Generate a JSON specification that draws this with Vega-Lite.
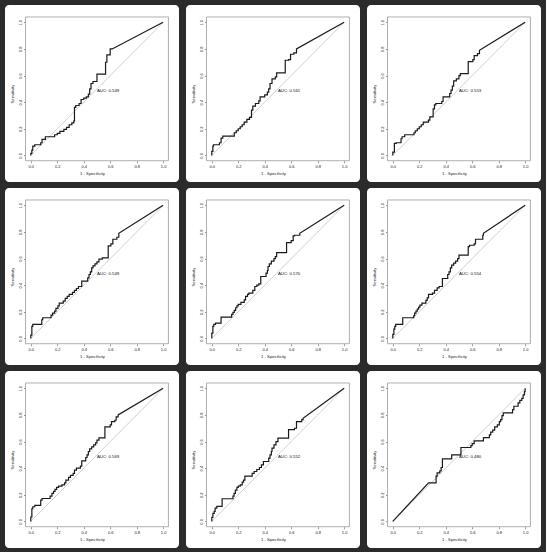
{
"$schema": "https://vega.github.io/schema/vega-lite/v6.json",
"background": "#2b2b2b",
"padding": {"left": 5, "top": 5, "right": 5, "bottom": 4},
"data": {"values": [
{"p":1,"x":0,"y":0},{"p":1,"x":0,"y":0.015},{"p":1,"x":0.008,"y":0.015},{"p":1,"x":0.008,"y":0.04},{"p":1,"x":0.015,"y":0.04},{"p":1,"x":0.015,"y":0.07},{"p":1,"x":0.03,"y":0.07},{"p":1,"x":0.03,"y":0.08},{"p":1,"x":0.075,"y":0.08},{"p":1,"x":0.075,"y":0.095},{"p":1,"x":0.085,"y":0.095},{"p":1,"x":0.085,"y":0.12},{"p":1,"x":0.11,"y":0.12},{"p":1,"x":0.11,"y":0.14},{"p":1,"x":0.18,"y":0.14},{"p":1,"x":0.18,"y":0.155},{"p":1,"x":0.2,"y":0.155},{"p":1,"x":0.2,"y":0.165},{"p":1,"x":0.22,"y":0.165},{"p":1,"x":0.22,"y":0.18},{"p":1,"x":0.25,"y":0.18},{"p":1,"x":0.25,"y":0.195},{"p":1,"x":0.27,"y":0.195},{"p":1,"x":0.27,"y":0.21},{"p":1,"x":0.29,"y":0.21},{"p":1,"x":0.29,"y":0.23},{"p":1,"x":0.31,"y":0.23},{"p":1,"x":0.31,"y":0.245},{"p":1,"x":0.325,"y":0.245},{"p":1,"x":0.325,"y":0.26},{"p":1,"x":0.33,"y":0.26},{"p":1,"x":0.33,"y":0.36},{"p":1,"x":0.34,"y":0.36},{"p":1,"x":0.34,"y":0.375},{"p":1,"x":0.365,"y":0.375},{"p":1,"x":0.365,"y":0.39},{"p":1,"x":0.38,"y":0.39},{"p":1,"x":0.38,"y":0.42},{"p":1,"x":0.4,"y":0.42},{"p":1,"x":0.4,"y":0.43},{"p":1,"x":0.42,"y":0.43},{"p":1,"x":0.42,"y":0.44},{"p":1,"x":0.435,"y":0.44},{"p":1,"x":0.435,"y":0.46},{"p":1,"x":0.445,"y":0.46},{"p":1,"x":0.445,"y":0.5},{"p":1,"x":0.455,"y":0.5},{"p":1,"x":0.455,"y":0.54},{"p":1,"x":0.47,"y":0.54},{"p":1,"x":0.47,"y":0.555},{"p":1,"x":0.5,"y":0.555},{"p":1,"x":0.5,"y":0.61},{"p":1,"x":0.565,"y":0.61},{"p":1,"x":0.565,"y":0.7},{"p":1,"x":0.575,"y":0.7},{"p":1,"x":0.575,"y":0.755},{"p":1,"x":0.6,"y":0.755},{"p":1,"x":0.6,"y":0.8},{"p":1,"x":0.615,"y":0.8},{"p":1,"x":1,"y":1},
{"p":2,"x":0,"y":0},{"p":2,"x":0,"y":0.03},{"p":2,"x":0.008,"y":0.03},{"p":2,"x":0.008,"y":0.07},{"p":2,"x":0.013,"y":0.07},{"p":2,"x":0.013,"y":0.08},{"p":2,"x":0.058,"y":0.08},{"p":2,"x":0.058,"y":0.095},{"p":2,"x":0.07,"y":0.095},{"p":2,"x":0.07,"y":0.13},{"p":2,"x":0.083,"y":0.13},{"p":2,"x":0.083,"y":0.145},{"p":2,"x":0.17,"y":0.145},{"p":2,"x":0.17,"y":0.17},{"p":2,"x":0.185,"y":0.17},{"p":2,"x":0.185,"y":0.185},{"p":2,"x":0.2,"y":0.185},{"p":2,"x":0.2,"y":0.2},{"p":2,"x":0.215,"y":0.2},{"p":2,"x":0.215,"y":0.215},{"p":2,"x":0.23,"y":0.215},{"p":2,"x":0.23,"y":0.23},{"p":2,"x":0.245,"y":0.23},{"p":2,"x":0.245,"y":0.25},{"p":2,"x":0.265,"y":0.25},{"p":2,"x":0.265,"y":0.27},{"p":2,"x":0.285,"y":0.27},{"p":2,"x":0.285,"y":0.285},{"p":2,"x":0.3,"y":0.285},{"p":2,"x":0.3,"y":0.34},{"p":2,"x":0.31,"y":0.34},{"p":2,"x":0.31,"y":0.37},{"p":2,"x":0.33,"y":0.37},{"p":2,"x":0.33,"y":0.39},{"p":2,"x":0.355,"y":0.39},{"p":2,"x":0.355,"y":0.41},{"p":2,"x":0.365,"y":0.41},{"p":2,"x":0.365,"y":0.44},{"p":2,"x":0.4,"y":0.44},{"p":2,"x":0.4,"y":0.455},{"p":2,"x":0.42,"y":0.455},{"p":2,"x":0.42,"y":0.475},{"p":2,"x":0.43,"y":0.475},{"p":2,"x":0.43,"y":0.5},{"p":2,"x":0.44,"y":0.5},{"p":2,"x":0.44,"y":0.54},{"p":2,"x":0.455,"y":0.54},{"p":2,"x":0.455,"y":0.575},{"p":2,"x":0.48,"y":0.575},{"p":2,"x":0.48,"y":0.59},{"p":2,"x":0.49,"y":0.59},{"p":2,"x":0.49,"y":0.62},{"p":2,"x":0.555,"y":0.62},{"p":2,"x":0.555,"y":0.715},{"p":2,"x":0.58,"y":0.715},{"p":2,"x":0.58,"y":0.72},{"p":2,"x":0.595,"y":0.72},{"p":2,"x":0.595,"y":0.76},{"p":2,"x":0.62,"y":0.76},{"p":2,"x":0.62,"y":0.77},{"p":2,"x":0.64,"y":0.77},{"p":2,"x":0.64,"y":0.8},{"p":2,"x":1,"y":1},
{"p":3,"x":0,"y":0},{"p":3,"x":0,"y":0.025},{"p":3,"x":0.012,"y":0.025},{"p":3,"x":0.012,"y":0.09},{"p":3,"x":0.025,"y":0.09},{"p":3,"x":0.025,"y":0.095},{"p":3,"x":0.062,"y":0.095},{"p":3,"x":0.062,"y":0.125},{"p":3,"x":0.07,"y":0.125},{"p":3,"x":0.07,"y":0.14},{"p":3,"x":0.09,"y":0.14},{"p":3,"x":0.09,"y":0.155},{"p":3,"x":0.16,"y":0.155},{"p":3,"x":0.16,"y":0.17},{"p":3,"x":0.17,"y":0.17},{"p":3,"x":0.17,"y":0.185},{"p":3,"x":0.185,"y":0.185},{"p":3,"x":0.185,"y":0.2},{"p":3,"x":0.2,"y":0.2},{"p":3,"x":0.2,"y":0.215},{"p":3,"x":0.215,"y":0.215},{"p":3,"x":0.215,"y":0.23},{"p":3,"x":0.23,"y":0.23},{"p":3,"x":0.23,"y":0.25},{"p":3,"x":0.27,"y":0.25},{"p":3,"x":0.27,"y":0.265},{"p":3,"x":0.28,"y":0.265},{"p":3,"x":0.28,"y":0.29},{"p":3,"x":0.305,"y":0.29},{"p":3,"x":0.305,"y":0.35},{"p":3,"x":0.315,"y":0.35},{"p":3,"x":0.315,"y":0.38},{"p":3,"x":0.325,"y":0.38},{"p":3,"x":0.325,"y":0.39},{"p":3,"x":0.37,"y":0.39},{"p":3,"x":0.37,"y":0.405},{"p":3,"x":0.38,"y":0.405},{"p":3,"x":0.38,"y":0.44},{"p":3,"x":0.43,"y":0.44},{"p":3,"x":0.43,"y":0.465},{"p":3,"x":0.44,"y":0.465},{"p":3,"x":0.44,"y":0.49},{"p":3,"x":0.45,"y":0.49},{"p":3,"x":0.45,"y":0.52},{"p":3,"x":0.46,"y":0.52},{"p":3,"x":0.46,"y":0.56},{"p":3,"x":0.48,"y":0.56},{"p":3,"x":0.48,"y":0.575},{"p":3,"x":0.5,"y":0.575},{"p":3,"x":0.5,"y":0.6},{"p":3,"x":0.51,"y":0.6},{"p":3,"x":0.51,"y":0.615},{"p":3,"x":0.57,"y":0.615},{"p":3,"x":0.57,"y":0.705},{"p":3,"x":0.605,"y":0.705},{"p":3,"x":0.605,"y":0.72},{"p":3,"x":0.615,"y":0.72},{"p":3,"x":0.615,"y":0.75},{"p":3,"x":0.64,"y":0.75},{"p":3,"x":0.64,"y":0.765},{"p":3,"x":0.655,"y":0.765},{"p":3,"x":0.655,"y":0.79},{"p":3,"x":1,"y":1},
{"p":4,"x":0,"y":0},{"p":4,"x":0,"y":0.025},{"p":4,"x":0.008,"y":0.025},{"p":4,"x":0.008,"y":0.09},{"p":4,"x":0.015,"y":0.09},{"p":4,"x":0.015,"y":0.105},{"p":4,"x":0.083,"y":0.105},{"p":4,"x":0.083,"y":0.14},{"p":4,"x":0.09,"y":0.14},{"p":4,"x":0.09,"y":0.155},{"p":4,"x":0.153,"y":0.155},{"p":4,"x":0.153,"y":0.175},{"p":4,"x":0.165,"y":0.175},{"p":4,"x":0.165,"y":0.19},{"p":4,"x":0.18,"y":0.19},{"p":4,"x":0.18,"y":0.205},{"p":4,"x":0.19,"y":0.205},{"p":4,"x":0.19,"y":0.225},{"p":4,"x":0.205,"y":0.225},{"p":4,"x":0.205,"y":0.245},{"p":4,"x":0.215,"y":0.245},{"p":4,"x":0.215,"y":0.265},{"p":4,"x":0.245,"y":0.265},{"p":4,"x":0.245,"y":0.28},{"p":4,"x":0.26,"y":0.28},{"p":4,"x":0.26,"y":0.3},{"p":4,"x":0.275,"y":0.3},{"p":4,"x":0.275,"y":0.315},{"p":4,"x":0.29,"y":0.315},{"p":4,"x":0.29,"y":0.33},{"p":4,"x":0.315,"y":0.33},{"p":4,"x":0.315,"y":0.345},{"p":4,"x":0.33,"y":0.345},{"p":4,"x":0.33,"y":0.36},{"p":4,"x":0.345,"y":0.36},{"p":4,"x":0.345,"y":0.375},{"p":4,"x":0.36,"y":0.375},{"p":4,"x":0.36,"y":0.39},{"p":4,"x":0.385,"y":0.39},{"p":4,"x":0.385,"y":0.43},{"p":4,"x":0.43,"y":0.43},{"p":4,"x":0.43,"y":0.455},{"p":4,"x":0.44,"y":0.455},{"p":4,"x":0.44,"y":0.48},{"p":4,"x":0.45,"y":0.48},{"p":4,"x":0.45,"y":0.5},{"p":4,"x":0.46,"y":0.5},{"p":4,"x":0.46,"y":0.53},{"p":4,"x":0.47,"y":0.53},{"p":4,"x":0.47,"y":0.545},{"p":4,"x":0.485,"y":0.545},{"p":4,"x":0.485,"y":0.56},{"p":4,"x":0.5,"y":0.56},{"p":4,"x":0.5,"y":0.575},{"p":4,"x":0.515,"y":0.575},{"p":4,"x":0.515,"y":0.595},{"p":4,"x":0.54,"y":0.595},{"p":4,"x":0.54,"y":0.605},{"p":4,"x":0.585,"y":0.605},{"p":4,"x":0.585,"y":0.695},{"p":4,"x":0.605,"y":0.695},{"p":4,"x":0.605,"y":0.71},{"p":4,"x":0.62,"y":0.71},{"p":4,"x":0.62,"y":0.745},{"p":4,"x":0.65,"y":0.745},{"p":4,"x":0.65,"y":0.76},{"p":4,"x":0.665,"y":0.76},{"p":4,"x":0.665,"y":0.79},{"p":4,"x":1,"y":1},
{"p":5,"x":0,"y":0},{"p":5,"x":0,"y":0.04},{"p":5,"x":0.008,"y":0.04},{"p":5,"x":0.008,"y":0.09},{"p":5,"x":0.015,"y":0.09},{"p":5,"x":0.015,"y":0.105},{"p":5,"x":0.028,"y":0.105},{"p":5,"x":0.028,"y":0.115},{"p":5,"x":0.07,"y":0.115},{"p":5,"x":0.07,"y":0.16},{"p":5,"x":0.15,"y":0.16},{"p":5,"x":0.15,"y":0.18},{"p":5,"x":0.16,"y":0.18},{"p":5,"x":0.16,"y":0.195},{"p":5,"x":0.17,"y":0.195},{"p":5,"x":0.17,"y":0.21},{"p":5,"x":0.18,"y":0.21},{"p":5,"x":0.18,"y":0.23},{"p":5,"x":0.19,"y":0.23},{"p":5,"x":0.19,"y":0.245},{"p":5,"x":0.2,"y":0.245},{"p":5,"x":0.2,"y":0.255},{"p":5,"x":0.22,"y":0.255},{"p":5,"x":0.22,"y":0.27},{"p":5,"x":0.245,"y":0.27},{"p":5,"x":0.245,"y":0.29},{"p":5,"x":0.255,"y":0.29},{"p":5,"x":0.255,"y":0.315},{"p":5,"x":0.27,"y":0.315},{"p":5,"x":0.27,"y":0.33},{"p":5,"x":0.28,"y":0.33},{"p":5,"x":0.28,"y":0.34},{"p":5,"x":0.31,"y":0.34},{"p":5,"x":0.31,"y":0.36},{"p":5,"x":0.325,"y":0.36},{"p":5,"x":0.325,"y":0.39},{"p":5,"x":0.34,"y":0.39},{"p":5,"x":0.34,"y":0.4},{"p":5,"x":0.355,"y":0.4},{"p":5,"x":0.355,"y":0.41},{"p":5,"x":0.37,"y":0.41},{"p":5,"x":0.37,"y":0.465},{"p":5,"x":0.41,"y":0.465},{"p":5,"x":0.41,"y":0.49},{"p":5,"x":0.42,"y":0.49},{"p":5,"x":0.42,"y":0.51},{"p":5,"x":0.425,"y":0.51},{"p":5,"x":0.425,"y":0.54},{"p":5,"x":0.435,"y":0.54},{"p":5,"x":0.435,"y":0.56},{"p":5,"x":0.45,"y":0.56},{"p":5,"x":0.45,"y":0.58},{"p":5,"x":0.47,"y":0.58},{"p":5,"x":0.47,"y":0.6},{"p":5,"x":0.48,"y":0.6},{"p":5,"x":0.48,"y":0.615},{"p":5,"x":0.49,"y":0.615},{"p":5,"x":0.49,"y":0.645},{"p":5,"x":0.565,"y":0.645},{"p":5,"x":0.565,"y":0.72},{"p":5,"x":0.6,"y":0.72},{"p":5,"x":0.6,"y":0.735},{"p":5,"x":0.615,"y":0.735},{"p":5,"x":0.615,"y":0.77},{"p":5,"x":0.625,"y":0.77},{"p":5,"x":0.625,"y":0.775},{"p":5,"x":0.665,"y":0.775},{"p":5,"x":0.665,"y":0.79},{"p":5,"x":1,"y":1},
{"p":6,"x":0,"y":0},{"p":6,"x":0,"y":0.03},{"p":6,"x":0.008,"y":0.03},{"p":6,"x":0.008,"y":0.07},{"p":6,"x":0.015,"y":0.07},{"p":6,"x":0.015,"y":0.09},{"p":6,"x":0.022,"y":0.09},{"p":6,"x":0.022,"y":0.105},{"p":6,"x":0.075,"y":0.105},{"p":6,"x":0.075,"y":0.155},{"p":6,"x":0.158,"y":0.155},{"p":6,"x":0.158,"y":0.17},{"p":6,"x":0.165,"y":0.17},{"p":6,"x":0.165,"y":0.19},{"p":6,"x":0.175,"y":0.19},{"p":6,"x":0.175,"y":0.205},{"p":6,"x":0.185,"y":0.205},{"p":6,"x":0.185,"y":0.22},{"p":6,"x":0.195,"y":0.22},{"p":6,"x":0.195,"y":0.235},{"p":6,"x":0.205,"y":0.235},{"p":6,"x":0.205,"y":0.25},{"p":6,"x":0.22,"y":0.25},{"p":6,"x":0.22,"y":0.265},{"p":6,"x":0.25,"y":0.265},{"p":6,"x":0.25,"y":0.285},{"p":6,"x":0.26,"y":0.285},{"p":6,"x":0.26,"y":0.305},{"p":6,"x":0.27,"y":0.305},{"p":6,"x":0.27,"y":0.33},{"p":6,"x":0.3,"y":0.33},{"p":6,"x":0.3,"y":0.34},{"p":6,"x":0.315,"y":0.34},{"p":6,"x":0.315,"y":0.36},{"p":6,"x":0.335,"y":0.36},{"p":6,"x":0.335,"y":0.38},{"p":6,"x":0.35,"y":0.38},{"p":6,"x":0.35,"y":0.39},{"p":6,"x":0.375,"y":0.39},{"p":6,"x":0.375,"y":0.45},{"p":6,"x":0.415,"y":0.45},{"p":6,"x":0.415,"y":0.48},{"p":6,"x":0.425,"y":0.48},{"p":6,"x":0.425,"y":0.5},{"p":6,"x":0.435,"y":0.5},{"p":6,"x":0.435,"y":0.53},{"p":6,"x":0.445,"y":0.53},{"p":6,"x":0.445,"y":0.55},{"p":6,"x":0.46,"y":0.55},{"p":6,"x":0.46,"y":0.565},{"p":6,"x":0.475,"y":0.565},{"p":6,"x":0.475,"y":0.58},{"p":6,"x":0.49,"y":0.58},{"p":6,"x":0.49,"y":0.6},{"p":6,"x":0.5,"y":0.6},{"p":6,"x":0.5,"y":0.625},{"p":6,"x":0.57,"y":0.625},{"p":6,"x":0.57,"y":0.69},{"p":6,"x":0.58,"y":0.69},{"p":6,"x":0.58,"y":0.7},{"p":6,"x":0.615,"y":0.7},{"p":6,"x":0.615,"y":0.71},{"p":6,"x":0.625,"y":0.71},{"p":6,"x":0.625,"y":0.745},{"p":6,"x":0.68,"y":0.745},{"p":6,"x":0.68,"y":0.775},{"p":6,"x":0.685,"y":0.775},{"p":6,"x":0.685,"y":0.79},{"p":6,"x":1,"y":1},
{"p":7,"x":0,"y":0},{"p":7,"x":0,"y":0.033},{"p":7,"x":0.008,"y":0.033},{"p":7,"x":0.008,"y":0.095},{"p":7,"x":0.015,"y":0.095},{"p":7,"x":0.015,"y":0.11},{"p":7,"x":0.03,"y":0.11},{"p":7,"x":0.03,"y":0.12},{"p":7,"x":0.075,"y":0.12},{"p":7,"x":0.075,"y":0.16},{"p":7,"x":0.085,"y":0.16},{"p":7,"x":0.085,"y":0.172},{"p":7,"x":0.146,"y":0.172},{"p":7,"x":0.146,"y":0.19},{"p":7,"x":0.16,"y":0.19},{"p":7,"x":0.16,"y":0.21},{"p":7,"x":0.172,"y":0.21},{"p":7,"x":0.172,"y":0.225},{"p":7,"x":0.183,"y":0.225},{"p":7,"x":0.183,"y":0.24},{"p":7,"x":0.195,"y":0.24},{"p":7,"x":0.195,"y":0.255},{"p":7,"x":0.21,"y":0.255},{"p":7,"x":0.21,"y":0.265},{"p":7,"x":0.235,"y":0.265},{"p":7,"x":0.235,"y":0.275},{"p":7,"x":0.255,"y":0.275},{"p":7,"x":0.255,"y":0.29},{"p":7,"x":0.265,"y":0.29},{"p":7,"x":0.265,"y":0.31},{"p":7,"x":0.285,"y":0.31},{"p":7,"x":0.285,"y":0.33},{"p":7,"x":0.3,"y":0.33},{"p":7,"x":0.3,"y":0.345},{"p":7,"x":0.32,"y":0.345},{"p":7,"x":0.32,"y":0.36},{"p":7,"x":0.33,"y":0.36},{"p":7,"x":0.33,"y":0.385},{"p":7,"x":0.345,"y":0.385},{"p":7,"x":0.345,"y":0.4},{"p":7,"x":0.375,"y":0.4},{"p":7,"x":0.375,"y":0.415},{"p":7,"x":0.385,"y":0.415},{"p":7,"x":0.385,"y":0.455},{"p":7,"x":0.415,"y":0.455},{"p":7,"x":0.415,"y":0.48},{"p":7,"x":0.425,"y":0.48},{"p":7,"x":0.425,"y":0.5},{"p":7,"x":0.435,"y":0.5},{"p":7,"x":0.435,"y":0.525},{"p":7,"x":0.445,"y":0.525},{"p":7,"x":0.445,"y":0.545},{"p":7,"x":0.46,"y":0.545},{"p":7,"x":0.46,"y":0.56},{"p":7,"x":0.475,"y":0.56},{"p":7,"x":0.475,"y":0.575},{"p":7,"x":0.49,"y":0.575},{"p":7,"x":0.49,"y":0.59},{"p":7,"x":0.5,"y":0.59},{"p":7,"x":0.5,"y":0.61},{"p":7,"x":0.515,"y":0.61},{"p":7,"x":0.515,"y":0.628},{"p":7,"x":0.56,"y":0.628},{"p":7,"x":0.56,"y":0.71},{"p":7,"x":0.6,"y":0.71},{"p":7,"x":0.6,"y":0.725},{"p":7,"x":0.61,"y":0.725},{"p":7,"x":0.61,"y":0.75},{"p":7,"x":0.635,"y":0.75},{"p":7,"x":0.635,"y":0.76},{"p":7,"x":0.645,"y":0.76},{"p":7,"x":0.645,"y":0.785},{"p":7,"x":0.66,"y":0.785},{"p":7,"x":0.66,"y":0.8},{"p":7,"x":1,"y":1},
{"p":8,"x":0,"y":0},{"p":8,"x":0,"y":0.03},{"p":8,"x":0.008,"y":0.03},{"p":8,"x":0.008,"y":0.06},{"p":8,"x":0.018,"y":0.06},{"p":8,"x":0.018,"y":0.075},{"p":8,"x":0.025,"y":0.075},{"p":8,"x":0.025,"y":0.1},{"p":8,"x":0.038,"y":0.1},{"p":8,"x":0.038,"y":0.113},{"p":8,"x":0.078,"y":0.113},{"p":8,"x":0.078,"y":0.17},{"p":8,"x":0.16,"y":0.17},{"p":8,"x":0.16,"y":0.19},{"p":8,"x":0.168,"y":0.19},{"p":8,"x":0.168,"y":0.21},{"p":8,"x":0.178,"y":0.21},{"p":8,"x":0.178,"y":0.235},{"p":8,"x":0.19,"y":0.235},{"p":8,"x":0.19,"y":0.255},{"p":8,"x":0.2,"y":0.255},{"p":8,"x":0.2,"y":0.265},{"p":8,"x":0.215,"y":0.265},{"p":8,"x":0.215,"y":0.275},{"p":8,"x":0.23,"y":0.275},{"p":8,"x":0.23,"y":0.295},{"p":8,"x":0.24,"y":0.295},{"p":8,"x":0.24,"y":0.31},{"p":8,"x":0.25,"y":0.31},{"p":8,"x":0.25,"y":0.34},{"p":8,"x":0.305,"y":0.34},{"p":8,"x":0.305,"y":0.36},{"p":8,"x":0.32,"y":0.36},{"p":8,"x":0.32,"y":0.375},{"p":8,"x":0.34,"y":0.375},{"p":8,"x":0.34,"y":0.39},{"p":8,"x":0.36,"y":0.39},{"p":8,"x":0.36,"y":0.405},{"p":8,"x":0.375,"y":0.405},{"p":8,"x":0.375,"y":0.425},{"p":8,"x":0.39,"y":0.425},{"p":8,"x":0.39,"y":0.45},{"p":8,"x":0.43,"y":0.45},{"p":8,"x":0.43,"y":0.475},{"p":8,"x":0.44,"y":0.475},{"p":8,"x":0.44,"y":0.5},{"p":8,"x":0.45,"y":0.5},{"p":8,"x":0.45,"y":0.525},{"p":8,"x":0.455,"y":0.525},{"p":8,"x":0.455,"y":0.55},{"p":8,"x":0.47,"y":0.55},{"p":8,"x":0.47,"y":0.575},{"p":8,"x":0.485,"y":0.575},{"p":8,"x":0.485,"y":0.6},{"p":8,"x":0.5,"y":0.6},{"p":8,"x":0.5,"y":0.625},{"p":8,"x":0.58,"y":0.625},{"p":8,"x":0.58,"y":0.69},{"p":8,"x":0.625,"y":0.69},{"p":8,"x":0.625,"y":0.7},{"p":8,"x":0.64,"y":0.7},{"p":8,"x":0.64,"y":0.75},{"p":8,"x":0.68,"y":0.75},{"p":8,"x":0.68,"y":0.765},{"p":8,"x":0.69,"y":0.765},{"p":8,"x":0.69,"y":0.775},{"p":8,"x":1,"y":1},
{"p":9,"x":0,"y":0},{"p":9,"x":0.27,"y":0.29},{"p":9,"x":0.327,"y":0.29},{"p":9,"x":0.327,"y":0.34},{"p":9,"x":0.335,"y":0.34},{"p":9,"x":0.335,"y":0.365},{"p":9,"x":0.355,"y":0.365},{"p":9,"x":0.355,"y":0.38},{"p":9,"x":0.365,"y":0.38},{"p":9,"x":0.365,"y":0.405},{"p":9,"x":0.375,"y":0.405},{"p":9,"x":0.375,"y":0.47},{"p":9,"x":0.445,"y":0.47},{"p":9,"x":0.445,"y":0.5},{"p":9,"x":0.515,"y":0.5},{"p":9,"x":0.515,"y":0.555},{"p":9,"x":0.59,"y":0.555},{"p":9,"x":0.59,"y":0.57},{"p":9,"x":0.6,"y":0.57},{"p":9,"x":0.6,"y":0.585},{"p":9,"x":0.615,"y":0.585},{"p":9,"x":0.615,"y":0.605},{"p":9,"x":0.685,"y":0.605},{"p":9,"x":0.685,"y":0.63},{"p":9,"x":0.73,"y":0.63},{"p":9,"x":0.73,"y":0.65},{"p":9,"x":0.74,"y":0.65},{"p":9,"x":0.74,"y":0.67},{"p":9,"x":0.755,"y":0.67},{"p":9,"x":0.755,"y":0.685},{"p":9,"x":0.77,"y":0.685},{"p":9,"x":0.77,"y":0.71},{"p":9,"x":0.79,"y":0.71},{"p":9,"x":0.79,"y":0.725},{"p":9,"x":0.805,"y":0.725},{"p":9,"x":0.805,"y":0.75},{"p":9,"x":0.815,"y":0.75},{"p":9,"x":0.815,"y":0.765},{"p":9,"x":0.825,"y":0.765},{"p":9,"x":0.825,"y":0.795},{"p":9,"x":0.835,"y":0.795},{"p":9,"x":0.835,"y":0.815},{"p":9,"x":0.905,"y":0.815},{"p":9,"x":0.905,"y":0.84},{"p":9,"x":0.915,"y":0.84},{"p":9,"x":0.915,"y":0.865},{"p":9,"x":0.947,"y":0.865},{"p":9,"x":0.947,"y":0.89},{"p":9,"x":0.96,"y":0.89},{"p":9,"x":0.96,"y":0.91},{"p":9,"x":0.975,"y":0.91},{"p":9,"x":0.975,"y":0.925},{"p":9,"x":0.985,"y":0.925},{"p":9,"x":0.985,"y":0.95},{"p":9,"x":0.995,"y":0.95},{"p":9,"x":0.995,"y":0.975},{"p":9,"x":1,"y":0.975},{"p":9,"x":1,"y":1},
{"p":1,"auc":"AUC: 0.549"},{"p":2,"auc":"AUC: 0.561"},{"p":3,"auc":"AUC: 0.553"},{"p":4,"auc":"AUC: 0.549"},{"p":5,"auc":"AUC: 0.570"},{"p":6,"auc":"AUC: 0.554"},{"p":7,"auc":"AUC: 0.569"},{"p":8,"auc":"AUC: 0.552"},{"p":9,"auc":"AUC: 0.480"}
]},
"columns": 3,
"spacing": {"row": 6, "column": 7},
"concat": [
{"width":174,"height":177,"transform":[{"filter":"datum.p==1"}],"layer":[
 {"transform":[{"filter":"isValid(datum.auc)"}],"mark":{"type":"rect","filled":false,"color":"#9a9a9a","strokeWidth":0.8},"encoding":{"x":{"datum":-0.04,"type":"quantitative","scale":{"domain":[-0.195,1.12],"nice":false,"zero":false},"axis":{"title":"1 - Specificity","values":[0,0.2,0.4,0.6,0.8,1],"format":".1f"}},"x2":{"datum":1.04},"y":{"datum":-0.04,"type":"quantitative","scale":{"domain":[-0.2,1.13],"nice":false,"zero":false},"axis":{"title":"Sensitivity","values":[0,0.2,0.4,0.6,0.8,1],"format":".1f"}},"y2":{"datum":1.04}}},
 {"transform":[{"filter":"isValid(datum.auc)"}],"mark":{"type":"rule","color":"#c4c4c4","strokeWidth":0.8},"encoding":{"x":{"datum":0,"type":"quantitative","scale":{"domain":[-0.195,1.12],"nice":false,"zero":false},"axis":{"title":"1 - Specificity","values":[0,0.2,0.4,0.6,0.8,1],"format":".1f"}},"x2":{"datum":1},"y":{"datum":0,"type":"quantitative","scale":{"domain":[-0.2,1.13],"nice":false,"zero":false},"axis":{"title":"Sensitivity","values":[0,0.2,0.4,0.6,0.8,1],"format":".1f"}},"y2":{"datum":1}}},
 {"transform":[{"filter":"!isValid(datum.auc)"}],"mark":{"type":"line","color":"#1a1a1a","strokeWidth":1.2},"encoding":{"x":{"field":"x","type":"quantitative","scale":{"domain":[-0.195,1.12],"nice":false,"zero":false},"axis":{"title":"1 - Specificity","values":[0,0.2,0.4,0.6,0.8,1],"format":".1f"}},"y":{"field":"y","type":"quantitative","scale":{"domain":[-0.2,1.13],"nice":false,"zero":false},"axis":{"title":"Sensitivity","values":[0,0.2,0.4,0.6,0.8,1],"format":".1f"}}}},
 {"transform":[{"filter":"isValid(datum.auc)"}],"mark":{"type":"text","align":"left","baseline":"top","fontSize":4.3,"font":"Liberation Sans","color":"#111111"},"encoding":{"x":{"datum":0.5,"type":"quantitative","scale":{"domain":[-0.195,1.12],"nice":false,"zero":false},"axis":{"title":"1 - Specificity","values":[0,0.2,0.4,0.6,0.8,1],"format":".1f"}},"y":{"datum":0.5,"type":"quantitative","scale":{"domain":[-0.2,1.13],"nice":false,"zero":false},"axis":{"title":"Sensitivity","values":[0,0.2,0.4,0.6,0.8,1],"format":".1f"}},"text":{"field":"auc"}}}
]},
{"width":174,"height":177,"transform":[{"filter":"datum.p==2"}],"layer":[
 {"transform":[{"filter":"isValid(datum.auc)"}],"mark":{"type":"rect","filled":false,"color":"#9a9a9a","strokeWidth":0.8},"encoding":{"x":{"datum":-0.04,"type":"quantitative","scale":{"domain":[-0.195,1.12],"nice":false,"zero":false},"axis":{"title":"1 - Specificity","values":[0,0.2,0.4,0.6,0.8,1],"format":".1f"}},"x2":{"datum":1.04},"y":{"datum":-0.04,"type":"quantitative","scale":{"domain":[-0.2,1.13],"nice":false,"zero":false},"axis":{"title":"Sensitivity","values":[0,0.2,0.4,0.6,0.8,1],"format":".1f"}},"y2":{"datum":1.04}}},
 {"transform":[{"filter":"isValid(datum.auc)"}],"mark":{"type":"rule","color":"#c4c4c4","strokeWidth":0.8},"encoding":{"x":{"datum":0,"type":"quantitative","scale":{"domain":[-0.195,1.12],"nice":false,"zero":false},"axis":{"title":"1 - Specificity","values":[0,0.2,0.4,0.6,0.8,1],"format":".1f"}},"x2":{"datum":1},"y":{"datum":0,"type":"quantitative","scale":{"domain":[-0.2,1.13],"nice":false,"zero":false},"axis":{"title":"Sensitivity","values":[0,0.2,0.4,0.6,0.8,1],"format":".1f"}},"y2":{"datum":1}}},
 {"transform":[{"filter":"!isValid(datum.auc)"}],"mark":{"type":"line","color":"#1a1a1a","strokeWidth":1.2},"encoding":{"x":{"field":"x","type":"quantitative","scale":{"domain":[-0.195,1.12],"nice":false,"zero":false},"axis":{"title":"1 - Specificity","values":[0,0.2,0.4,0.6,0.8,1],"format":".1f"}},"y":{"field":"y","type":"quantitative","scale":{"domain":[-0.2,1.13],"nice":false,"zero":false},"axis":{"title":"Sensitivity","values":[0,0.2,0.4,0.6,0.8,1],"format":".1f"}}}},
 {"transform":[{"filter":"isValid(datum.auc)"}],"mark":{"type":"text","align":"left","baseline":"top","fontSize":4.3,"font":"Liberation Sans","color":"#111111"},"encoding":{"x":{"datum":0.5,"type":"quantitative","scale":{"domain":[-0.195,1.12],"nice":false,"zero":false},"axis":{"title":"1 - Specificity","values":[0,0.2,0.4,0.6,0.8,1],"format":".1f"}},"y":{"datum":0.5,"type":"quantitative","scale":{"domain":[-0.2,1.13],"nice":false,"zero":false},"axis":{"title":"Sensitivity","values":[0,0.2,0.4,0.6,0.8,1],"format":".1f"}},"text":{"field":"auc"}}}
]},
{"width":174,"height":177,"transform":[{"filter":"datum.p==3"}],"layer":[
 {"transform":[{"filter":"isValid(datum.auc)"}],"mark":{"type":"rect","filled":false,"color":"#9a9a9a","strokeWidth":0.8},"encoding":{"x":{"datum":-0.04,"type":"quantitative","scale":{"domain":[-0.195,1.12],"nice":false,"zero":false},"axis":{"title":"1 - Specificity","values":[0,0.2,0.4,0.6,0.8,1],"format":".1f"}},"x2":{"datum":1.04},"y":{"datum":-0.04,"type":"quantitative","scale":{"domain":[-0.2,1.13],"nice":false,"zero":false},"axis":{"title":"Sensitivity","values":[0,0.2,0.4,0.6,0.8,1],"format":".1f"}},"y2":{"datum":1.04}}},
 {"transform":[{"filter":"isValid(datum.auc)"}],"mark":{"type":"rule","color":"#c4c4c4","strokeWidth":0.8},"encoding":{"x":{"datum":0,"type":"quantitative","scale":{"domain":[-0.195,1.12],"nice":false,"zero":false},"axis":{"title":"1 - Specificity","values":[0,0.2,0.4,0.6,0.8,1],"format":".1f"}},"x2":{"datum":1},"y":{"datum":0,"type":"quantitative","scale":{"domain":[-0.2,1.13],"nice":false,"zero":false},"axis":{"title":"Sensitivity","values":[0,0.2,0.4,0.6,0.8,1],"format":".1f"}},"y2":{"datum":1}}},
 {"transform":[{"filter":"!isValid(datum.auc)"}],"mark":{"type":"line","color":"#1a1a1a","strokeWidth":1.2},"encoding":{"x":{"field":"x","type":"quantitative","scale":{"domain":[-0.195,1.12],"nice":false,"zero":false},"axis":{"title":"1 - Specificity","values":[0,0.2,0.4,0.6,0.8,1],"format":".1f"}},"y":{"field":"y","type":"quantitative","scale":{"domain":[-0.2,1.13],"nice":false,"zero":false},"axis":{"title":"Sensitivity","values":[0,0.2,0.4,0.6,0.8,1],"format":".1f"}}}},
 {"transform":[{"filter":"isValid(datum.auc)"}],"mark":{"type":"text","align":"left","baseline":"top","fontSize":4.3,"font":"Liberation Sans","color":"#111111"},"encoding":{"x":{"datum":0.5,"type":"quantitative","scale":{"domain":[-0.195,1.12],"nice":false,"zero":false},"axis":{"title":"1 - Specificity","values":[0,0.2,0.4,0.6,0.8,1],"format":".1f"}},"y":{"datum":0.5,"type":"quantitative","scale":{"domain":[-0.2,1.13],"nice":false,"zero":false},"axis":{"title":"Sensitivity","values":[0,0.2,0.4,0.6,0.8,1],"format":".1f"}},"text":{"field":"auc"}}}
]},
{"width":174,"height":177,"transform":[{"filter":"datum.p==4"}],"layer":[
 {"transform":[{"filter":"isValid(datum.auc)"}],"mark":{"type":"rect","filled":false,"color":"#9a9a9a","strokeWidth":0.8},"encoding":{"x":{"datum":-0.04,"type":"quantitative","scale":{"domain":[-0.195,1.12],"nice":false,"zero":false},"axis":{"title":"1 - Specificity","values":[0,0.2,0.4,0.6,0.8,1],"format":".1f"}},"x2":{"datum":1.04},"y":{"datum":-0.04,"type":"quantitative","scale":{"domain":[-0.2,1.13],"nice":false,"zero":false},"axis":{"title":"Sensitivity","values":[0,0.2,0.4,0.6,0.8,1],"format":".1f"}},"y2":{"datum":1.04}}},
 {"transform":[{"filter":"isValid(datum.auc)"}],"mark":{"type":"rule","color":"#c4c4c4","strokeWidth":0.8},"encoding":{"x":{"datum":0,"type":"quantitative","scale":{"domain":[-0.195,1.12],"nice":false,"zero":false},"axis":{"title":"1 - Specificity","values":[0,0.2,0.4,0.6,0.8,1],"format":".1f"}},"x2":{"datum":1},"y":{"datum":0,"type":"quantitative","scale":{"domain":[-0.2,1.13],"nice":false,"zero":false},"axis":{"title":"Sensitivity","values":[0,0.2,0.4,0.6,0.8,1],"format":".1f"}},"y2":{"datum":1}}},
 {"transform":[{"filter":"!isValid(datum.auc)"}],"mark":{"type":"line","color":"#1a1a1a","strokeWidth":1.2},"encoding":{"x":{"field":"x","type":"quantitative","scale":{"domain":[-0.195,1.12],"nice":false,"zero":false},"axis":{"title":"1 - Specificity","values":[0,0.2,0.4,0.6,0.8,1],"format":".1f"}},"y":{"field":"y","type":"quantitative","scale":{"domain":[-0.2,1.13],"nice":false,"zero":false},"axis":{"title":"Sensitivity","values":[0,0.2,0.4,0.6,0.8,1],"format":".1f"}}}},
 {"transform":[{"filter":"isValid(datum.auc)"}],"mark":{"type":"text","align":"left","baseline":"top","fontSize":4.3,"font":"Liberation Sans","color":"#111111"},"encoding":{"x":{"datum":0.5,"type":"quantitative","scale":{"domain":[-0.195,1.12],"nice":false,"zero":false},"axis":{"title":"1 - Specificity","values":[0,0.2,0.4,0.6,0.8,1],"format":".1f"}},"y":{"datum":0.5,"type":"quantitative","scale":{"domain":[-0.2,1.13],"nice":false,"zero":false},"axis":{"title":"Sensitivity","values":[0,0.2,0.4,0.6,0.8,1],"format":".1f"}},"text":{"field":"auc"}}}
]},
{"width":174,"height":177,"transform":[{"filter":"datum.p==5"}],"layer":[
 {"transform":[{"filter":"isValid(datum.auc)"}],"mark":{"type":"rect","filled":false,"color":"#9a9a9a","strokeWidth":0.8},"encoding":{"x":{"datum":-0.04,"type":"quantitative","scale":{"domain":[-0.195,1.12],"nice":false,"zero":false},"axis":{"title":"1 - Specificity","values":[0,0.2,0.4,0.6,0.8,1],"format":".1f"}},"x2":{"datum":1.04},"y":{"datum":-0.04,"type":"quantitative","scale":{"domain":[-0.2,1.13],"nice":false,"zero":false},"axis":{"title":"Sensitivity","values":[0,0.2,0.4,0.6,0.8,1],"format":".1f"}},"y2":{"datum":1.04}}},
 {"transform":[{"filter":"isValid(datum.auc)"}],"mark":{"type":"rule","color":"#c4c4c4","strokeWidth":0.8},"encoding":{"x":{"datum":0,"type":"quantitative","scale":{"domain":[-0.195,1.12],"nice":false,"zero":false},"axis":{"title":"1 - Specificity","values":[0,0.2,0.4,0.6,0.8,1],"format":".1f"}},"x2":{"datum":1},"y":{"datum":0,"type":"quantitative","scale":{"domain":[-0.2,1.13],"nice":false,"zero":false},"axis":{"title":"Sensitivity","values":[0,0.2,0.4,0.6,0.8,1],"format":".1f"}},"y2":{"datum":1}}},
 {"transform":[{"filter":"!isValid(datum.auc)"}],"mark":{"type":"line","color":"#1a1a1a","strokeWidth":1.2},"encoding":{"x":{"field":"x","type":"quantitative","scale":{"domain":[-0.195,1.12],"nice":false,"zero":false},"axis":{"title":"1 - Specificity","values":[0,0.2,0.4,0.6,0.8,1],"format":".1f"}},"y":{"field":"y","type":"quantitative","scale":{"domain":[-0.2,1.13],"nice":false,"zero":false},"axis":{"title":"Sensitivity","values":[0,0.2,0.4,0.6,0.8,1],"format":".1f"}}}},
 {"transform":[{"filter":"isValid(datum.auc)"}],"mark":{"type":"text","align":"left","baseline":"top","fontSize":4.3,"font":"Liberation Sans","color":"#111111"},"encoding":{"x":{"datum":0.5,"type":"quantitative","scale":{"domain":[-0.195,1.12],"nice":false,"zero":false},"axis":{"title":"1 - Specificity","values":[0,0.2,0.4,0.6,0.8,1],"format":".1f"}},"y":{"datum":0.5,"type":"quantitative","scale":{"domain":[-0.2,1.13],"nice":false,"zero":false},"axis":{"title":"Sensitivity","values":[0,0.2,0.4,0.6,0.8,1],"format":".1f"}},"text":{"field":"auc"}}}
]},
{"width":174,"height":177,"transform":[{"filter":"datum.p==6"}],"layer":[
 {"transform":[{"filter":"isValid(datum.auc)"}],"mark":{"type":"rect","filled":false,"color":"#9a9a9a","strokeWidth":0.8},"encoding":{"x":{"datum":-0.04,"type":"quantitative","scale":{"domain":[-0.195,1.12],"nice":false,"zero":false},"axis":{"title":"1 - Specificity","values":[0,0.2,0.4,0.6,0.8,1],"format":".1f"}},"x2":{"datum":1.04},"y":{"datum":-0.04,"type":"quantitative","scale":{"domain":[-0.2,1.13],"nice":false,"zero":false},"axis":{"title":"Sensitivity","values":[0,0.2,0.4,0.6,0.8,1],"format":".1f"}},"y2":{"datum":1.04}}},
 {"transform":[{"filter":"isValid(datum.auc)"}],"mark":{"type":"rule","color":"#c4c4c4","strokeWidth":0.8},"encoding":{"x":{"datum":0,"type":"quantitative","scale":{"domain":[-0.195,1.12],"nice":false,"zero":false},"axis":{"title":"1 - Specificity","values":[0,0.2,0.4,0.6,0.8,1],"format":".1f"}},"x2":{"datum":1},"y":{"datum":0,"type":"quantitative","scale":{"domain":[-0.2,1.13],"nice":false,"zero":false},"axis":{"title":"Sensitivity","values":[0,0.2,0.4,0.6,0.8,1],"format":".1f"}},"y2":{"datum":1}}},
 {"transform":[{"filter":"!isValid(datum.auc)"}],"mark":{"type":"line","color":"#1a1a1a","strokeWidth":1.2},"encoding":{"x":{"field":"x","type":"quantitative","scale":{"domain":[-0.195,1.12],"nice":false,"zero":false},"axis":{"title":"1 - Specificity","values":[0,0.2,0.4,0.6,0.8,1],"format":".1f"}},"y":{"field":"y","type":"quantitative","scale":{"domain":[-0.2,1.13],"nice":false,"zero":false},"axis":{"title":"Sensitivity","values":[0,0.2,0.4,0.6,0.8,1],"format":".1f"}}}},
 {"transform":[{"filter":"isValid(datum.auc)"}],"mark":{"type":"text","align":"left","baseline":"top","fontSize":4.3,"font":"Liberation Sans","color":"#111111"},"encoding":{"x":{"datum":0.5,"type":"quantitative","scale":{"domain":[-0.195,1.12],"nice":false,"zero":false},"axis":{"title":"1 - Specificity","values":[0,0.2,0.4,0.6,0.8,1],"format":".1f"}},"y":{"datum":0.5,"type":"quantitative","scale":{"domain":[-0.2,1.13],"nice":false,"zero":false},"axis":{"title":"Sensitivity","values":[0,0.2,0.4,0.6,0.8,1],"format":".1f"}},"text":{"field":"auc"}}}
]},
{"width":174,"height":177,"transform":[{"filter":"datum.p==7"}],"layer":[
 {"transform":[{"filter":"isValid(datum.auc)"}],"mark":{"type":"rect","filled":false,"color":"#9a9a9a","strokeWidth":0.8},"encoding":{"x":{"datum":-0.04,"type":"quantitative","scale":{"domain":[-0.195,1.12],"nice":false,"zero":false},"axis":{"title":"1 - Specificity","values":[0,0.2,0.4,0.6,0.8,1],"format":".1f"}},"x2":{"datum":1.04},"y":{"datum":-0.04,"type":"quantitative","scale":{"domain":[-0.2,1.13],"nice":false,"zero":false},"axis":{"title":"Sensitivity","values":[0,0.2,0.4,0.6,0.8,1],"format":".1f"}},"y2":{"datum":1.04}}},
 {"transform":[{"filter":"isValid(datum.auc)"}],"mark":{"type":"rule","color":"#c4c4c4","strokeWidth":0.8},"encoding":{"x":{"datum":0,"type":"quantitative","scale":{"domain":[-0.195,1.12],"nice":false,"zero":false},"axis":{"title":"1 - Specificity","values":[0,0.2,0.4,0.6,0.8,1],"format":".1f"}},"x2":{"datum":1},"y":{"datum":0,"type":"quantitative","scale":{"domain":[-0.2,1.13],"nice":false,"zero":false},"axis":{"title":"Sensitivity","values":[0,0.2,0.4,0.6,0.8,1],"format":".1f"}},"y2":{"datum":1}}},
 {"transform":[{"filter":"!isValid(datum.auc)"}],"mark":{"type":"line","color":"#1a1a1a","strokeWidth":1.2},"encoding":{"x":{"field":"x","type":"quantitative","scale":{"domain":[-0.195,1.12],"nice":false,"zero":false},"axis":{"title":"1 - Specificity","values":[0,0.2,0.4,0.6,0.8,1],"format":".1f"}},"y":{"field":"y","type":"quantitative","scale":{"domain":[-0.2,1.13],"nice":false,"zero":false},"axis":{"title":"Sensitivity","values":[0,0.2,0.4,0.6,0.8,1],"format":".1f"}}}},
 {"transform":[{"filter":"isValid(datum.auc)"}],"mark":{"type":"text","align":"left","baseline":"top","fontSize":4.3,"font":"Liberation Sans","color":"#111111"},"encoding":{"x":{"datum":0.5,"type":"quantitative","scale":{"domain":[-0.195,1.12],"nice":false,"zero":false},"axis":{"title":"1 - Specificity","values":[0,0.2,0.4,0.6,0.8,1],"format":".1f"}},"y":{"datum":0.5,"type":"quantitative","scale":{"domain":[-0.2,1.13],"nice":false,"zero":false},"axis":{"title":"Sensitivity","values":[0,0.2,0.4,0.6,0.8,1],"format":".1f"}},"text":{"field":"auc"}}}
]},
{"width":174,"height":177,"transform":[{"filter":"datum.p==8"}],"layer":[
 {"transform":[{"filter":"isValid(datum.auc)"}],"mark":{"type":"rect","filled":false,"color":"#9a9a9a","strokeWidth":0.8},"encoding":{"x":{"datum":-0.04,"type":"quantitative","scale":{"domain":[-0.195,1.12],"nice":false,"zero":false},"axis":{"title":"1 - Specificity","values":[0,0.2,0.4,0.6,0.8,1],"format":".1f"}},"x2":{"datum":1.04},"y":{"datum":-0.04,"type":"quantitative","scale":{"domain":[-0.2,1.13],"nice":false,"zero":false},"axis":{"title":"Sensitivity","values":[0,0.2,0.4,0.6,0.8,1],"format":".1f"}},"y2":{"datum":1.04}}},
 {"transform":[{"filter":"isValid(datum.auc)"}],"mark":{"type":"rule","color":"#c4c4c4","strokeWidth":0.8},"encoding":{"x":{"datum":0,"type":"quantitative","scale":{"domain":[-0.195,1.12],"nice":false,"zero":false},"axis":{"title":"1 - Specificity","values":[0,0.2,0.4,0.6,0.8,1],"format":".1f"}},"x2":{"datum":1},"y":{"datum":0,"type":"quantitative","scale":{"domain":[-0.2,1.13],"nice":false,"zero":false},"axis":{"title":"Sensitivity","values":[0,0.2,0.4,0.6,0.8,1],"format":".1f"}},"y2":{"datum":1}}},
 {"transform":[{"filter":"!isValid(datum.auc)"}],"mark":{"type":"line","color":"#1a1a1a","strokeWidth":1.2},"encoding":{"x":{"field":"x","type":"quantitative","scale":{"domain":[-0.195,1.12],"nice":false,"zero":false},"axis":{"title":"1 - Specificity","values":[0,0.2,0.4,0.6,0.8,1],"format":".1f"}},"y":{"field":"y","type":"quantitative","scale":{"domain":[-0.2,1.13],"nice":false,"zero":false},"axis":{"title":"Sensitivity","values":[0,0.2,0.4,0.6,0.8,1],"format":".1f"}}}},
 {"transform":[{"filter":"isValid(datum.auc)"}],"mark":{"type":"text","align":"left","baseline":"top","fontSize":4.3,"font":"Liberation Sans","color":"#111111"},"encoding":{"x":{"datum":0.5,"type":"quantitative","scale":{"domain":[-0.195,1.12],"nice":false,"zero":false},"axis":{"title":"1 - Specificity","values":[0,0.2,0.4,0.6,0.8,1],"format":".1f"}},"y":{"datum":0.5,"type":"quantitative","scale":{"domain":[-0.2,1.13],"nice":false,"zero":false},"axis":{"title":"Sensitivity","values":[0,0.2,0.4,0.6,0.8,1],"format":".1f"}},"text":{"field":"auc"}}}
]},
{"width":174,"height":177,"transform":[{"filter":"datum.p==9"}],"layer":[
 {"transform":[{"filter":"isValid(datum.auc)"}],"mark":{"type":"rect","filled":false,"color":"#9a9a9a","strokeWidth":0.8},"encoding":{"x":{"datum":-0.04,"type":"quantitative","scale":{"domain":[-0.195,1.12],"nice":false,"zero":false},"axis":{"title":"1 - Specificity","values":[0,0.2,0.4,0.6,0.8,1],"format":".1f"}},"x2":{"datum":1.04},"y":{"datum":-0.04,"type":"quantitative","scale":{"domain":[-0.2,1.13],"nice":false,"zero":false},"axis":{"title":"Sensitivity","values":[0,0.2,0.4,0.6,0.8,1],"format":".1f"}},"y2":{"datum":1.04}}},
 {"transform":[{"filter":"isValid(datum.auc)"}],"mark":{"type":"rule","color":"#c4c4c4","strokeWidth":0.8},"encoding":{"x":{"datum":0,"type":"quantitative","scale":{"domain":[-0.195,1.12],"nice":false,"zero":false},"axis":{"title":"1 - Specificity","values":[0,0.2,0.4,0.6,0.8,1],"format":".1f"}},"x2":{"datum":1},"y":{"datum":0,"type":"quantitative","scale":{"domain":[-0.2,1.13],"nice":false,"zero":false},"axis":{"title":"Sensitivity","values":[0,0.2,0.4,0.6,0.8,1],"format":".1f"}},"y2":{"datum":1}}},
 {"transform":[{"filter":"!isValid(datum.auc)"}],"mark":{"type":"line","color":"#1a1a1a","strokeWidth":1.2},"encoding":{"x":{"field":"x","type":"quantitative","scale":{"domain":[-0.195,1.12],"nice":false,"zero":false},"axis":{"title":"1 - Specificity","values":[0,0.2,0.4,0.6,0.8,1],"format":".1f"}},"y":{"field":"y","type":"quantitative","scale":{"domain":[-0.2,1.13],"nice":false,"zero":false},"axis":{"title":"Sensitivity","values":[0,0.2,0.4,0.6,0.8,1],"format":".1f"}}}},
 {"transform":[{"filter":"isValid(datum.auc)"}],"mark":{"type":"text","align":"left","baseline":"top","fontSize":4.3,"font":"Liberation Sans","color":"#111111"},"encoding":{"x":{"datum":0.5,"type":"quantitative","scale":{"domain":[-0.195,1.12],"nice":false,"zero":false},"axis":{"title":"1 - Specificity","values":[0,0.2,0.4,0.6,0.8,1],"format":".1f"}},"y":{"datum":0.5,"type":"quantitative","scale":{"domain":[-0.2,1.13],"nice":false,"zero":false},"axis":{"title":"Sensitivity","values":[0,0.2,0.4,0.6,0.8,1],"format":".1f"}},"text":{"field":"auc"}}}
]}
],
"config": {
  "view": {"fill": "white", "stroke": null, "cornerRadius": 4},
  "axis": {
    "domain": false, "grid": false,
    "labelFont": "Liberation Sans", "titleFont": "Liberation Sans",
    "labelFontSize": 4, "titleFontSize": 4.2, "titleFontWeight": "normal",
    "labelColor": "#222222", "titleColor": "#222222",
    "tickColor": "#555555", "tickSize": 2, "tickWidth": 0.6,
    "labelPadding": 1.5, "titlePadding": 3.5
  },
  "axisX": {"offset": -21.3},
  "axisY": {"offset": -20.5, "labelAngle": 270, "labelAlign": "center", "labelBaseline": "bottom"}
}
}
